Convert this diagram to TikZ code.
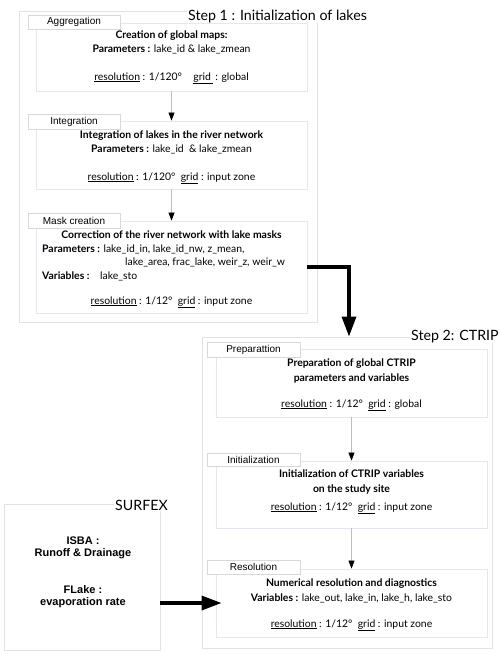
\documentclass[tikz,border=0pt]{standalone}
\usepackage{fontspec}
\setmainfont{Lato}
\newfontfamily\arialf{Liberation Sans}
\newfontfamily\titlef{Lato}
\usetikzlibrary{arrows.meta}
\definecolor{framec}{HTML}{E2E2E2}
\definecolor{boxc}{HTML}{E3E7EF}
\definecolor{labc}{HTML}{D8D8D8}
\definecolor{thinc}{HTML}{BDBDBD}
\tikzset{
  mainbox/.style={draw=boxc, line width=0.8pt, fill=white, inner sep=0pt},
  labbox/.style={draw=labc, line width=0.6pt, fill=white, inner sep=0pt, font=\arialf\fontsize{10}{12}\selectfont},
  steptitle/.style={fill=white, inner sep=1pt, anchor=base west, font=\titlef\fontsize{14.2}{17}\selectfont},
  txt/.style={inner sep=0pt, anchor=base, font=\fontsize{10.4}{12}\selectfont},
  ltxt/.style={inner sep=0pt, anchor=base west, font=\fontsize{10.4}{12}\selectfont},
  sftxt/.style={inner sep=0pt, anchor=base, font=\arialf\bfseries\fontsize{11}{13}\selectfont},
  thinarrow/.style={draw=thinc, line width=0.6pt, -{Triangle[width=6pt,length=8pt,color=black]}},
  bigarrow/.style={draw=black, line width=3.3pt, -{Triangle[width=14pt,length=20pt]}},
}
\newcommand{\boxat}[5]{% name, x1, y1, x2, y2
  \node[mainbox, minimum width=#4pt-#2pt, minimum height=#5pt-#3pt] (#1) at ({(#2+#4)/2},{(#3+#5)/2}) {};}
\newcommand{\labat}[6]{% name, x1, y1, x2, y2, text
  \node[labbox, minimum width=#4pt-#2pt, minimum height=#5pt-#3pt] (#1) at ({(#2+#4)/2},{(#3+#5)/2}) {#6};}
\begin{document}
\begin{tikzpicture}[x=1pt,y=-1pt]
\useasboundingbox (0,0) rectangle (500,654);
% ---------- frames
\node[draw=framec, line width=0.8pt, minimum width=298pt, minimum height=311pt, inner sep=0pt] (s1) at (168,166.5) {};
\node[draw=framec, line width=0.8pt, minimum width=290pt, minimum height=311pt, inner sep=0pt] (s2) at (347,492.5) {};
\node[draw=framec, line width=0.8pt, minimum width=156pt, minimum height=146pt, inner sep=0pt] (sf) at (82,577) {};
\node[steptitle] (t1) at (187,20) {Step 1 : Initialization of lakes};
\node[steptitle] (t2) at (410,340) {Step 2: CTRIP};
\node[steptitle] (t3) at (114,510) {SURFEX};
% ---------- Step 1 boxes
\boxat{agg}{36}{23}{307}{91}
\labat{aggl}{28}{15}{120}{29}{Aggregation}
\node[txt] (agg1) at (171.5,38) {\bfseries Creation of global maps:};
\node[txt] (agg2) at (171.5,52) {\textbf{Parameters :} lake\_id \& lake\_zmean};
\node[txt] (agg3) at (171.5,80) {\underline{resolution} : 1/120°\hspace{1.1em}\underline{grid\,} : global};

\boxat{int}{36}{121}{307}{189}
\labat{intl}{28}{114}{120}{129}{Integration}
\node[txt] (int1) at (171.5,138) {\bfseries Integration of lakes in the river network};
\node[txt] (int2) at (171.5,152) {\textbf{Parameters :} lake\_id\ \ \& lake\_zmean};
\node[txt] (int3) at (171.5,180) {\underline{resolution} : 1/120°\ \ \underline{grid} : input zone};

\boxat{mask}{36}{221}{307}{313}
\labat{maskl}{28}{213}{120}{228}{Mask creation}
\node[txt] (m1) at (171.5,238) {\bfseries Correction of the river network with lake masks};
\node[ltxt] (m2) at (42,252) {\textbf{Parameters :} lake\_id\_in, lake\_id\_nw, z\_mean,};
\node[ltxt] (m3) at (125,265) {lake\_area, frac\_lake, weir\_z, weir\_w};
\node[ltxt] (m4) at (42,279) {\textbf{Variables :}};
\node[ltxt] (m5) at (100,279) {lake\_sto};
\node[txt] (m6) at (171.5,304) {\underline{resolution} : 1/12°\ \ \underline{grid} : input zone};

% ---------- Step 2 boxes
\boxat{prep}{216}{349}{487}{417}
\labat{prepl}{207}{342}{300}{357}{Preparattion}
\node[txt] (p1) at (351.5,366) {\bfseries Preparation of global CTRIP};
\node[txt] (p2) at (351.5,381) {\bfseries parameters and variables};
\node[txt] (p3) at (351.5,407) {\underline{resolution} : 1/12°\ \ \underline{grid} : global};

\boxat{ini}{216}{461}{487}{528}
\labat{inil}{207}{453}{300}{466}{Initialization}
\node[txt] (i1) at (351.5,477) {\bfseries Initialization of CTRIP variables};
\node[txt] (i2) at (351.5,492) {\bfseries on the study site};
\node[txt] (i3) at (351.5,510) {\underline{resolution} : 1/12°\ \ \underline{grid} : input zone};

\boxat{res}{216}{569}{487}{637}
\labat{resl}{207}{560}{300}{574}{Resolution}
\node[txt] (r1) at (351.5,586) {\bfseries Numerical resolution and diagnostics};
\node[txt] (r2) at (351.5,601) {\textbf{Variables :} lake\_out, lake\_in, lake\_h, lake\_sto};
\node[txt] (r3) at (351.5,627) {\underline{resolution} : 1/12°\ \ \underline{grid} : input zone};

% ---------- SURFEX text
\node[sftxt] (sf1) at (83,544) {ISBA :};
\node[sftxt] (sf2) at (83,556) {Runoff \& Drainage};
\node[sftxt] (sf3) at (83,593) {FLake :};
\node[sftxt] (sf4) at (83,605) {evaporation rate};

% ---------- connectors
\draw[thinarrow] (agg.south) -- (int.north);
\draw[thinarrow] (int.south) -- (mask.north);
\draw[thinarrow] (prep.south) -- (ini.north);
\draw[thinarrow] (ini.south) -- (res.north);
\draw[bigarrow] (mask.east) -| ([xshift=2pt]s2.north);
\draw[bigarrow, shorten >=-6pt] (sf.east |- res.west) -- (res.west);
\end{tikzpicture}
\end{document}
